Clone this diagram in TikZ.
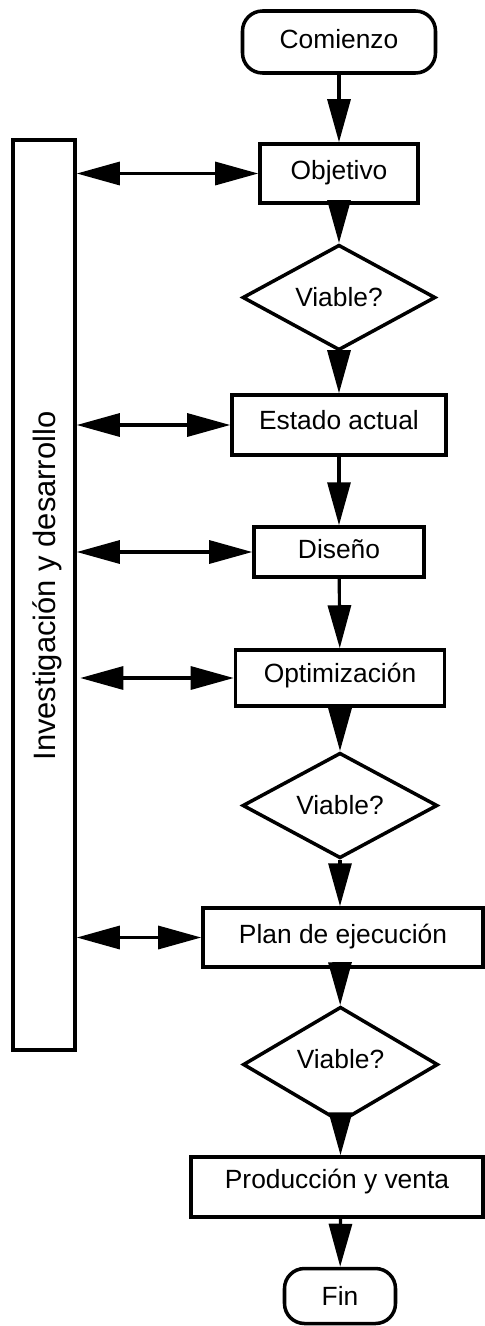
\documentclass[tikz,border=0pt]{standalone}
\usepackage{fontspec}
\setmainfont{Liberation Sans}
\usetikzlibrary{arrows.meta}
\usetikzlibrary{shapes.geometric}

\tikzset{
  flowbox/.style={draw, line width=2pt, inner sep=0pt, text height=3.6mm, text depth=1.2mm, font=\fontsize{15}{18}\selectfont},
  endbox/.style={flowbox, rounded corners=4mm},
  check/.style={flowbox, diamond, text depth=0mm},
  link/.style={line width=1.8pt, ->},
  twoway/.style={line width=1.8pt, <->}
}

\begin{document}
\begin{tikzpicture}[>={Triangle[length=8.6mm,width=4.6mm]}]
  \useasboundingbox (0,0) rectangle (9.7,-26.52);

  % Draw the start and end
  \node[endbox, minimum width=3.86cm, minimum height=1.24cm] (start) at (6.78,-0.84) {Comienzo};
  \node[endbox, minimum width=2.22cm, minimum height=1.10cm, text depth=0mm] (fin) at (6.80,-25.92) {Fin};

  % Draw the steps
  \node[flowbox, minimum width=3.16cm, minimum height=1.18cm] (goal) at (6.78,-3.47) {Objetivo};
  \node[flowbox, minimum width=4.28cm, minimum height=1.20cm, text depth=2mm] (state) at (6.78,-8.50) {Estado actual};
  \node[flowbox, minimum width=3.40cm, minimum height=1.00cm] (design) at (6.78,-11.04) {Diseño};
  \node[flowbox, minimum width=4.18cm, minimum height=1.12cm, text depth=2mm] (optim) at (6.80,-13.56) {Optimización};
  \node[flowbox, minimum width=5.60cm, minimum height=1.18cm, text depth=1.4mm] (plan) at (6.86,-18.75) {Plan de ejecución};
  \node[flowbox, minimum width=5.84cm, minimum height=1.20cm, text depth=3.2mm] (sale) at (6.74,-23.74) {Producción y venta};

  % Draw the checks
  \node[check, minimum width=3.86cm, minimum height=1.90cm] (ok1) at (6.78,-5.95) {Viable?};
  \node[check, minimum width=3.90cm, minimum height=1.90cm] (ok2) at (6.80,-16.11) {Viable?};
  \node[check, minimum width=3.90cm, minimum height=1.90cm, text depth=2mm] (ok3) at (6.81,-21.29) {Viable?};

  % Draw the research bar
  \node[draw, line width=2pt, minimum width=1.24cm, minimum height=18.2cm] (bar) at (0.88,-11.90) {};
  \node[rotate=90, anchor=base, font=\fontsize{17.6}{21}\selectfont] (barlabel) at (1.11,-11.72) {Investigación y desarrollo};

  % Draw the main flow
  \draw[link] (start) -- (goal);
  \draw[link] (goal) -- (ok1);
  \draw[link] (ok1) -- (state);
  \draw[link] (state) -- (design);
  \draw[link] (design) -- (optim);
  \draw[link] (optim) -- (ok2);
  \draw[link] (ok2.south) -- (ok2.south |- plan.north);
  \draw[link] (ok2.south |- plan.south) -- (ok3);
  \draw[link] (ok3) -- (ok3 |- sale.north);
  \draw[link] (ok3 |- sale.south) -- (fin);

  % Draw the links to the bar
  \foreach \step in {goal, state, design, plan}
    \draw[twoway] (bar.east |- \step.west) -- (\step.west);
  \draw[twoway, shorten <=2pt] (bar.east |- optim.west) -- (optim.west);
\end{tikzpicture}
\end{document}
